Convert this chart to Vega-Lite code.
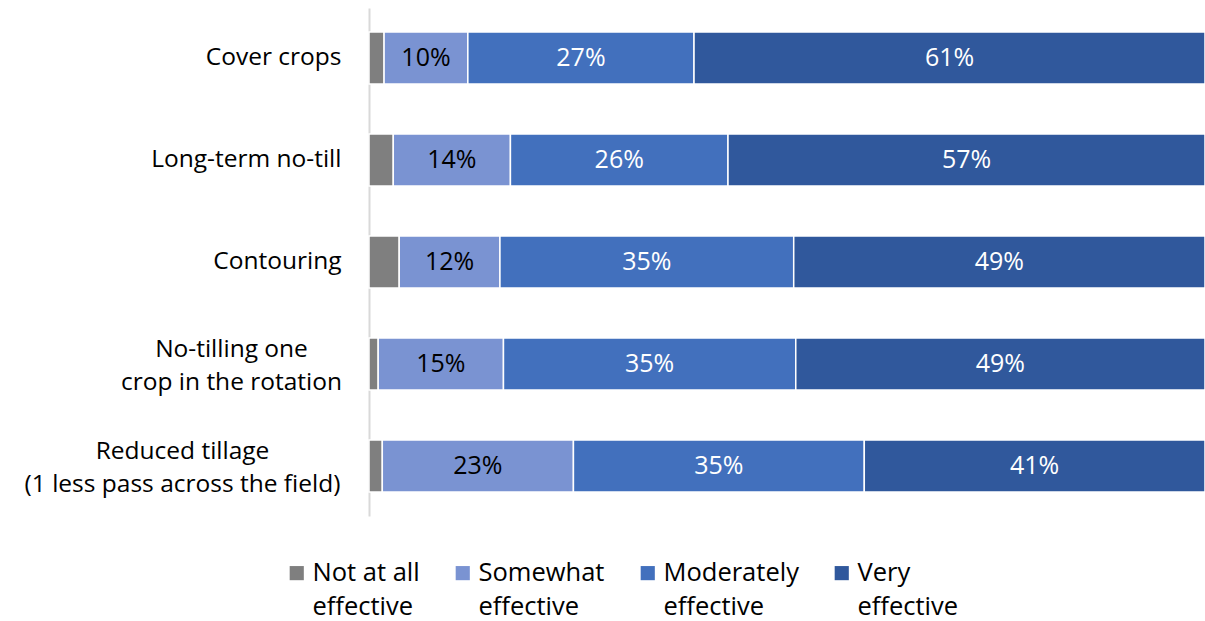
{
  "$schema": "https://vega.github.io/schema/vega-lite/v6.json",
  "autosize": {"type": "none"},
  "width": 836,
  "height": 508,
  "padding": {"left": 369, "top": 8, "right": 0, "bottom": 105},
  "background": "white",
  "config": {
    "view": {"stroke": null},
    "font": "Open Sans",
    "text": {"font": "Open Sans"},
    "style": {"guide-label": {"lineHeight": 34}}
  },
  "data": {
    "values": [
      {"practice": "Cover crops", "rating": "Not at all effective", "o": 1, "value": 1.8},
      {"practice": "Cover crops", "rating": "Somewhat effective", "o": 2, "value": 10},
      {"practice": "Cover crops", "rating": "Moderately effective", "o": 3, "value": 27},
      {"practice": "Cover crops", "rating": "Very effective", "o": 4, "value": 61},
      {"practice": "Long-term no-till", "rating": "Not at all effective", "o": 1, "value": 2.9},
      {"practice": "Long-term no-till", "rating": "Somewhat effective", "o": 2, "value": 14},
      {"practice": "Long-term no-till", "rating": "Moderately effective", "o": 3, "value": 26},
      {"practice": "Long-term no-till", "rating": "Very effective", "o": 4, "value": 57},
      {"practice": "Contouring", "rating": "Not at all effective", "o": 1, "value": 3.6},
      {"practice": "Contouring", "rating": "Somewhat effective", "o": 2, "value": 12},
      {"practice": "Contouring", "rating": "Moderately effective", "o": 3, "value": 35},
      {"practice": "Contouring", "rating": "Very effective", "o": 4, "value": 49},
      {"practice": "No-tilling one|crop in the rotation", "rating": "Not at all effective", "o": 1, "value": 1.1},
      {"practice": "No-tilling one|crop in the rotation", "rating": "Somewhat effective", "o": 2, "value": 15},
      {"practice": "No-tilling one|crop in the rotation", "rating": "Moderately effective", "o": 3, "value": 35},
      {"practice": "No-tilling one|crop in the rotation", "rating": "Very effective", "o": 4, "value": 49},
      {"practice": "Reduced tillage|(1 less pass across the field)", "rating": "Not at all effective", "o": 1, "value": 1.6},
      {"practice": "Reduced tillage|(1 less pass across the field)", "rating": "Somewhat effective", "o": 2, "value": 23},
      {"practice": "Reduced tillage|(1 less pass across the field)", "rating": "Moderately effective", "o": 3, "value": 35},
      {"practice": "Reduced tillage|(1 less pass across the field)", "rating": "Very effective", "o": 4, "value": 41}
    ]
  },
  "transform": [
    {"stack": "value", "groupby": ["practice"], "sort": [{"field": "o", "order": "ascending"}], "offset": "normalize", "as": ["x0", "x1"]},
    {"calculate": "(datum.x0 + datum.x1) / 2", "as": "xm"},
    {"calculate": "format(datum.value, '.0f') + '%'", "as": "label"}
  ],
  "encoding": {
    "y": {
      "field": "practice",
      "type": "nominal",
      "sort": null,
      "scale": {"paddingInner": 0.49, "paddingOuter": 0.235},
      "axis": {
        "title": null,
        "ticks": false,
        "domainColor": "#d9d9d9",
        "domainWidth": 2,
        "labelFontSize": 24.5,
        "labelColor": "#000000",
        "labelFont": "Open Sans",
        "labelLineHeight": 33,
        "labelLimit": 500,
        "labelAlign": {"condition": {"test": "indexof(datum.value, '|') >= 0", "value": "center"}, "value": "right"},
        "labelOffset": {"condition": {"test": "indexof(datum.value, '|') >= 0", "value": -14}, "value": 0},
        "labelPadding": {"condition": [
          {"test": "indexof(datum.value, 'No-tilling') >= 0", "value": 138},
          {"test": "indexof(datum.value, 'Reduced') >= 0", "value": 187}
        ], "value": 28},
        "labelExpr": "split(datum.label, '|')"
      }
    }
  },
  "layer": [
    {
      "mark": {"type": "bar", "stroke": "white", "strokeWidth": 1.5},
      "encoding": {
        "x": {"field": "x0", "type": "quantitative", "scale": {"domain": [0, 1], "nice": false}, "axis": null},
        "x2": {"field": "x1"},
        "color": {
          "field": "rating",
          "type": "nominal",
          "scale": {
            "domain": ["Not at all effective", "Somewhat effective", "Moderately effective", "Very effective"],
            "range": ["#7f7f7f", "#7a93d2", "#4270bd", "#30589c"]
          },
          "legend": {
            "orient": "none",
            "legendX": -85,
            "legendY": 552,
            "direction": "horizontal",
            "title": null,
            "symbolType": "square",
            "symbolSize": 200,
            "symbolStrokeWidth": 0,
            "labelFontSize": 25.5,
            "labelFont": "Open Sans",
            "labelColor": "#000000",
            "labelBaseline": "middle",
            "labelOffset": 3,
            "columnPadding": 30,
            "labelLimit": 300,
            "labelExpr": "datum.label == 'Not at all effective' ? ['Not at all', 'effective'] : [replace(datum.label, ' effective', ''), 'effective']"
          }
        }
      }
    },
    {
      "transform": [{"filter": "datum.value >= 5"}],
      "mark": {"type": "text", "fontSize": 25, "font": "Open Sans"},
      "encoding": {
        "x": {"field": "xm", "type": "quantitative"},
        "text": {"field": "label"},
        "color": {
          "condition": {"test": "datum.o == 2", "value": "#000000"},
          "value": "#ffffff"
        }
      }
    }
  ]
}
